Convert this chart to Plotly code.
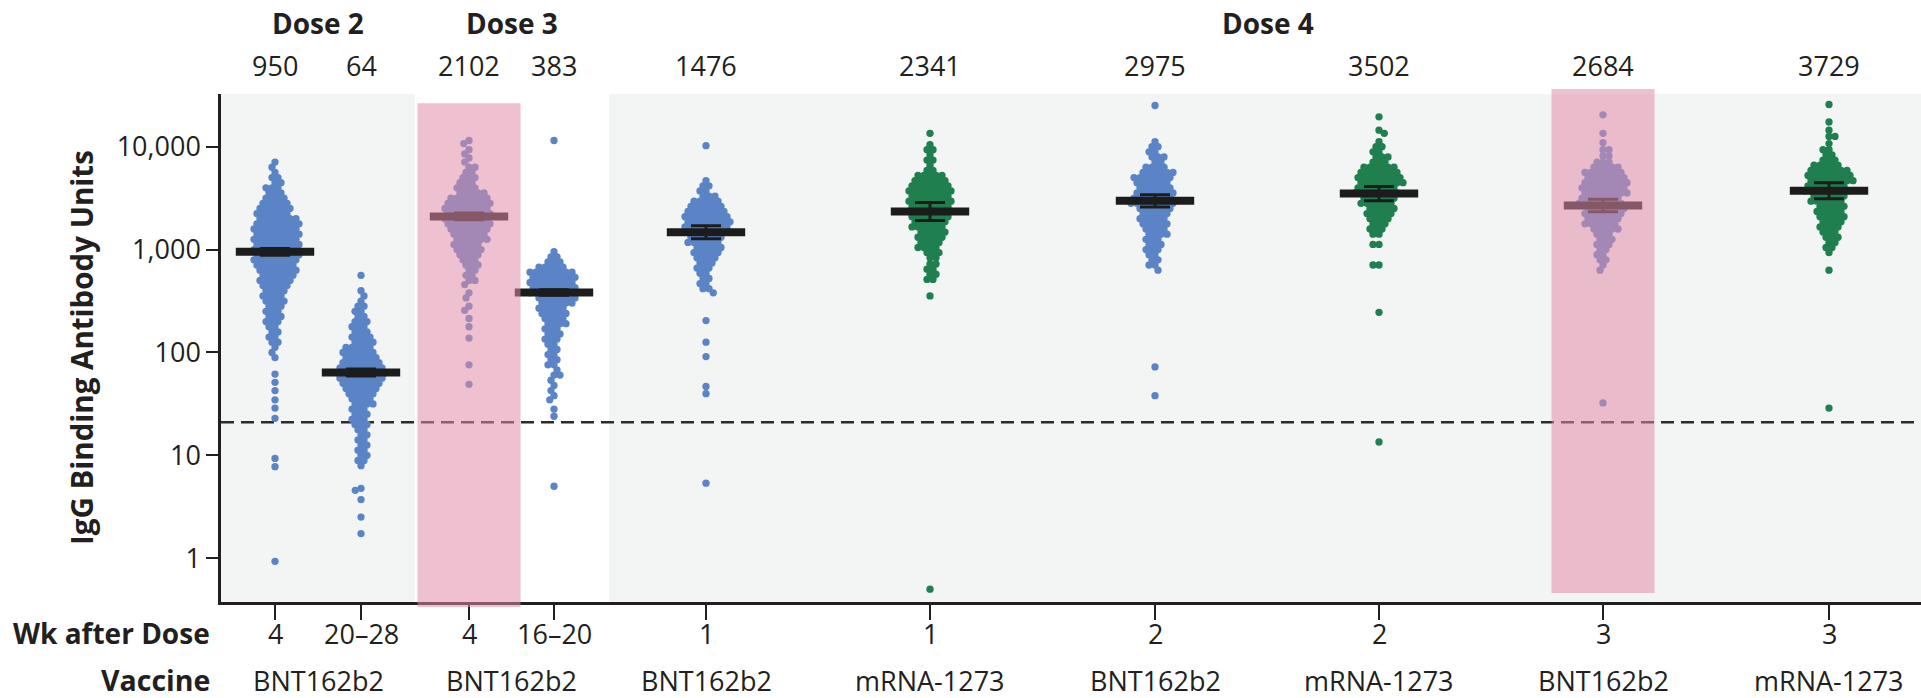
import plotly.graph_objects as go

# ---------------- data ----------------
wk_labels = ["4", "20–28", "4", "16–20", "1", "1", "2", "2", "3", "3"]
vaccine_labels = ["BNT162b2", "BNT162b2", "BNT162b2", "mRNA-1273", "BNT162b2", "mRNA-1273", "BNT162b2", "mRNA-1273"]
dose_headers = ["Dose 2", "Dose 3", "Dose 4"]
vaccine_of_group = ["BNT162b2", "BNT162b2", "BNT162b2", "BNT162b2", "BNT162b2",
                    "mRNA-1273", "BNT162b2", "mRNA-1273", "BNT162b2", "mRNA-1273"]
gmt = [950, 64, 2102, 383, 1476, 2341, 2975, 3502, 2684, 3729]
ci_low = [880, 59, 1950, 360, 1276, 1914, 2600, 2990, 2330, 3118]
ci_high = [1025, 69, 2270, 408, 1708, 2863, 3403, 4100, 3090, 4460]
threshold = 21
highlighted_groups = [2, 8]

# swarm rows: log10(antibody units) of each row, dots in that row
g1_levels = [3.85, 3.80, 3.75, 3.70, 3.65, 3.60, 3.55, 3.50, 3.45, 3.40, 3.35, 3.30, 3.25, 3.20, 3.15, 3.10,
             3.05, 3.00, 2.95, 2.90, 2.85, 2.80, 2.75, 2.70, 2.65, 2.60, 2.55, 2.50, 2.45, 2.40, 2.35, 2.30,
             2.25, 2.20, 2.15, 2.10, 2.05, 2.00, 1.95, 1.79, 1.71, 1.63, 1.54, 1.46, 1.36, 0.97, 0.89, -0.03]
g1_counts = [1, 1, 1, 2, 2, 3, 3, 4, 5, 6, 6, 7, 8, 8, 8, 8,
             8, 8, 8, 8, 7, 7, 6, 6, 5, 4, 4, 4, 3, 3, 3, 3,
             2, 2, 2, 2, 1, 1, 1, 1, 1, 1, 1, 1, 1, 1, 1, 1]

g2_levels = [2.75, 2.60, 2.55, 2.50, 2.45, 2.40, 2.35, 2.30, 2.25, 2.20, 2.15, 2.10, 2.05, 2.00, 1.95, 1.90,
             1.85, 1.80, 1.75, 1.70, 1.65, 1.60, 1.55, 1.50, 1.45, 1.40, 1.35, 1.30, 1.25, 1.20, 1.15, 1.10,
             1.05, 1.00, 0.95, 0.90, 0.68, 0.66, 0.57, 0.40, 0.24]
g2_counts = [1, 1, 1, 1, 2, 2, 2, 3, 3, 3, 4, 4, 5, 6, 6, 7,
             8, 8, 8, 7, 6, 5, 4, 4, 3, 3, 3, 3, 2, 2, 2, 2,
             2, 2, 2, 1, 1, 1, 1, 1, 1]

g3_levels = [4.06, 4.03, 3.97, 3.93, 3.89, 3.85, 3.80, 3.75, 3.70, 3.65, 3.60, 3.55, 3.50, 3.45, 3.40, 3.35,
             3.30, 3.25, 3.20, 3.15, 3.10, 3.05, 3.00, 2.95, 2.90, 2.85, 2.80, 2.75, 2.70, 2.66, 2.58, 2.53,
             2.45, 2.41, 2.33, 2.25, 2.14, 1.88, 1.69]
g3_counts = [1, 1, 1, 1, 1, 1, 2, 2, 3, 3, 4, 5, 7, 8, 8, 8,
             8, 8, 7, 6, 6, 5, 5, 4, 3, 3, 2, 2, 2, 1, 1, 1,
             1, 1, 1, 1, 1, 1, 1]

g4_levels = [4.06, 2.98, 2.93, 2.88, 2.83, 2.78, 2.73, 2.68, 2.63, 2.58, 2.53, 2.48, 2.43, 2.38, 2.33, 2.28,
             2.23, 2.18, 2.13, 2.08, 2.03, 1.98, 1.93, 1.88, 1.83, 1.78, 1.73, 1.68, 1.63, 1.58, 1.54, 1.45,
             1.38, 0.70]
g4_counts = [1, 1, 2, 3, 5, 8, 8, 8, 8, 8, 7, 6, 5, 5, 4, 4,
             3, 3, 3, 2, 2, 2, 2, 2, 1, 2, 1, 1, 1, 1, 1, 1,
             1, 1]

g5_levels = [4.01, 3.67, 3.62, 3.57, 3.52, 3.47, 3.42, 3.37, 3.32, 3.27, 3.22, 3.17, 3.12, 3.07, 3.02, 2.97,
             2.92, 2.87, 2.82, 2.77, 2.72, 2.67, 2.62, 2.58, 2.31, 2.10, 1.96, 1.67, 1.60, 0.73]
g5_counts = [1, 1, 2, 2, 3, 5, 6, 7, 8, 8, 8, 7, 6, 6, 5, 5,
             4, 3, 3, 2, 2, 2, 2, 1, 1, 1, 1, 1, 1, 1]

g6_levels = [4.13, 4.02, 3.97, 3.92, 3.87, 3.82, 3.77, 3.72, 3.67, 3.62, 3.57, 3.52, 3.47, 3.42, 3.37, 3.32,
             3.27, 3.22, 3.17, 3.12, 3.07, 3.02, 2.97, 2.92, 2.86, 2.81, 2.76, 2.71, 2.55, -0.30]
g6_counts = [1, 1, 2, 1, 2, 1, 2, 5, 6, 7, 8, 7, 8, 7, 7, 7,
             6, 6, 5, 5, 4, 4, 3, 2, 2, 2, 2, 2, 1, 1]

g7_levels = [4.40, 4.05, 4.00, 3.95, 3.90, 3.85, 3.80, 3.75, 3.70, 3.65, 3.60, 3.55, 3.50, 3.45, 3.40, 3.35,
             3.30, 3.25, 3.20, 3.15, 3.10, 3.05, 3.00, 2.95, 2.90, 2.85, 2.80, 1.86, 1.58]
g7_counts = [1, 1, 2, 2, 3, 2, 4, 6, 7, 6, 6, 7, 7, 8, 6, 5,
             5, 5, 4, 4, 3, 3, 3, 2, 2, 2, 1, 1, 1]

g8_levels = [4.29, 4.16, 4.13, 4.05, 4.00, 3.95, 3.90, 3.85, 3.80, 3.75, 3.70, 3.65, 3.60, 3.55, 3.50, 3.45,
             3.40, 3.35, 3.30, 3.25, 3.20, 3.15, 3.05, 2.85, 2.39, 1.13]
g8_counts = [1, 1, 1, 1, 2, 2, 3, 3, 6, 7, 8, 8, 7, 8, 6, 6,
             5, 5, 4, 3, 3, 2, 2, 2, 1, 1]

g9_levels = [4.31, 4.13, 4.04, 3.97, 3.91, 3.85, 3.80, 3.75, 3.70, 3.65, 3.60, 3.55, 3.50, 3.45, 3.40, 3.35,
             3.30, 3.25, 3.20, 3.15, 3.10, 3.05, 3.00, 2.95, 2.90, 2.85, 2.80, 1.51]
g9_counts = [1, 1, 1, 2, 2, 3, 5, 7, 7, 8, 8, 8, 7, 8, 7, 7,
             6, 6, 5, 3, 3, 3, 2, 2, 2, 1, 1, 1]

g10_levels = [4.41, 4.24, 4.16, 4.10, 4.03, 3.97, 3.92, 3.87, 3.82, 3.77, 3.72, 3.67, 3.62, 3.57, 3.52, 3.47,
              3.42, 3.37, 3.32, 3.27, 3.22, 3.17, 3.12, 3.07, 3.02, 2.97, 2.80, 1.46]
g10_counts = [1, 1, 1, 2, 1, 2, 2, 3, 5, 7, 8, 8, 7, 8, 6, 6,
              5, 5, 5, 4, 4, 3, 3, 2, 2, 1, 1, 1]

swarm_levels = [g1_levels, g2_levels, g3_levels, g4_levels, g5_levels,
                g6_levels, g7_levels, g8_levels, g9_levels, g10_levels]
swarm_counts = [g1_counts, g2_counts, g3_counts, g4_counts, g5_counts,
                g6_counts, g7_counts, g8_counts, g9_counts, g10_counts]

# ---------------- layout constants ----------------
W, H = 1921, 698
ML, MR, MT, MB = 221, 0, 94, 96
plot_w = W - ML - MR
plot_h = H - MT - MB
x_range = [0, plot_w]
y_range = [-0.425, 4.512]
group_x = [54, 140, 248, 333, 485, 709, 934, 1158, 1382, 1608]
dose_center_x = [97, 290.5, 1046.5]
vaccine_label_x = [97, 290.5, 485, 709, 934, 1158, 1382, 1608]
gray_bands = [(0, 194), (388, plot_w)]
highlight_half = 51.5
highlight_y = {2: (-0.0098, 0.982), 8: (0.0177, 1.0098)}

BLUE = "#5a84c6"
GREEN = "#1f7f4e"
INK = "#231f20"
FONT = "Open Sans, Noto Sans, sans-serif"
color_of = {"BNT162b2": BLUE, "mRNA-1273": GREEN}

ppd = plot_h / (y_range[1] - y_range[0])  # pixels per decade
D = 5.9  # dot spacing px


def beeswarm(levels, counts):
    placed = []
    offs = []
    ys = []
    sign = 1
    for L, n in zip(levels, counts):
        y = L * ppd
        for _ in range(n):
            k = 0
            found = None
            while found is None:
                cands = (0.0,) if k == 0 else (sign * k * 0.25, -sign * k * 0.25)
                for c in cands:
                    ok = True
                    for px, py in placed:
                        if abs(py - y) < D and (c - px) ** 2 + (y - py) ** 2 < D * D - 1e-9:
                            ok = False
                            break
                    if ok:
                        found = c
                        break
                k += 1
            placed.append((found, y))
            offs.append(found)
            ys.append(10 ** L)
            sign = -sign
    return offs, ys


fig = go.Figure()

# threshold line
fig.add_trace(go.Scatter(x=x_range, y=[threshold, threshold], mode="lines",
                         line=dict(color="#2b2b2b", width=2.4, dash="13px,7px"),
                         hoverinfo="skip", showlegend=False))

for gi in range(10):
    offs, ys = beeswarm(swarm_levels[gi], swarm_counts[gi])
    xs = [group_x[gi] + o for o in offs]
    fig.add_trace(go.Scatter(x=xs, y=ys, mode="markers",
                             marker=dict(size=7.3, color=color_of[vaccine_of_group[gi]], line=dict(width=0)),
                             hoverinfo="skip", showlegend=False))

# geometric means with CI
fig.add_trace(go.Scatter(
    x=group_x, y=gmt, mode="markers",
    marker=dict(symbol="line-ew", size=56, line=dict(width=8, color="#1c1c1c")),
    error_y=dict(type="data", symmetric=False,
                 array=[h - g for h, g in zip(ci_high, gmt)],
                 arrayminus=[g - l for g, l in zip(gmt, ci_low)],
                 width=15, thickness=3, color="#1c1c1c"),
    hoverinfo="skip", showlegend=False))

shapes = []
for x0, x1 in gray_bands:
    shapes.append(dict(type="rect", xref="paper", yref="paper",
                       x0=x0 / plot_w, x1=x1 / plot_w, y0=0, y1=1,
                       fillcolor="#f3f5f5", line=dict(width=0), layer="below"))
for gi in highlighted_groups:
    y0, y1 = highlight_y[gi]
    shapes.append(dict(type="rect", xref="paper", yref="paper",
                       x0=(group_x[gi] - highlight_half) / plot_w,
                       x1=(group_x[gi] + highlight_half) / plot_w,
                       y0=y0, y1=y1,
                       fillcolor="rgba(226,139,167,0.54)", line=dict(width=0), layer="above"))


def py(p):
    return (H - MB - p) / plot_h


ann = []
for gi in range(10):
    ann.append(dict(x=group_x[gi], y=py(633), xref="x", yref="paper", text=wk_labels[gi],
                    showarrow=False, xanchor="center", yanchor="middle",
                    font=dict(family=FONT, size=27, color=INK)))
    ann.append(dict(x=group_x[gi], y=py(65), xref="x", yref="paper", text=str(gmt[gi]),
                    showarrow=False, xanchor="center", yanchor="middle",
                    font=dict(family=FONT, size=27, color=INK)))
for xv, t in zip(vaccine_label_x, vaccine_labels):
    ann.append(dict(x=xv, y=py(680), xref="x", yref="paper", text=t,
                    showarrow=False, xanchor="center", yanchor="middle",
                    font=dict(family=FONT, size=27, color=INK)))
for xv, t in zip(dose_center_x, dose_headers):
    ann.append(dict(x=xv, y=py(23), xref="x", yref="paper", text="<b>" + t + "</b>",
                    showarrow=False, xanchor="center", yanchor="middle",
                    font=dict(family=FONT, size=28, color=INK)))
ann.append(dict(x=-9 / plot_w, y=py(633), xref="paper", yref="paper", text="<b>Wk after Dose</b>",
                showarrow=False, xanchor="right", yanchor="middle",
                font=dict(family=FONT, size=28, color=INK)))
ann.append(dict(x=-9 / plot_w, y=py(680), xref="paper", yref="paper", text="<b>Vaccine</b>",
                showarrow=False, xanchor="right", yanchor="middle",
                font=dict(family=FONT, size=28.5, color=INK)))
ann.append(dict(x=-140 / plot_w, y=0.5, xref="paper", yref="paper",
                text="<b>IgG Binding Antibody Units</b>", textangle=-90,
                showarrow=False, xanchor="center", yanchor="middle",
                font=dict(family=FONT, size=29.5, color=INK)))

fig.update_layout(
    width=W, height=H,
    margin=dict(l=ML, r=MR, t=MT, b=MB, pad=0),
    paper_bgcolor="white", plot_bgcolor="white",
    showlegend=False,
    shapes=shapes, annotations=ann,
    xaxis=dict(range=x_range, showgrid=False, zeroline=False, showline=True,
               linecolor=INK, linewidth=2.5, ticks="outside", ticklen=15, tickwidth=2,
               tickcolor=INK, tickvals=group_x, showticklabels=False, fixedrange=True),
    yaxis=dict(type="log", range=y_range, showgrid=False, zeroline=False, showline=True,
               linecolor=INK, linewidth=2.5, ticks="outside", ticklen=12, tickwidth=2,
               tickcolor=INK, tickvals=[1, 10, 100, 1000, 10000],
               ticktext=["1", "10", "100", "1,000", "10,000"],
               tickfont=dict(family=FONT, size=27, color=INK), fixedrange=True),
)

fig.write_html("out.html")
